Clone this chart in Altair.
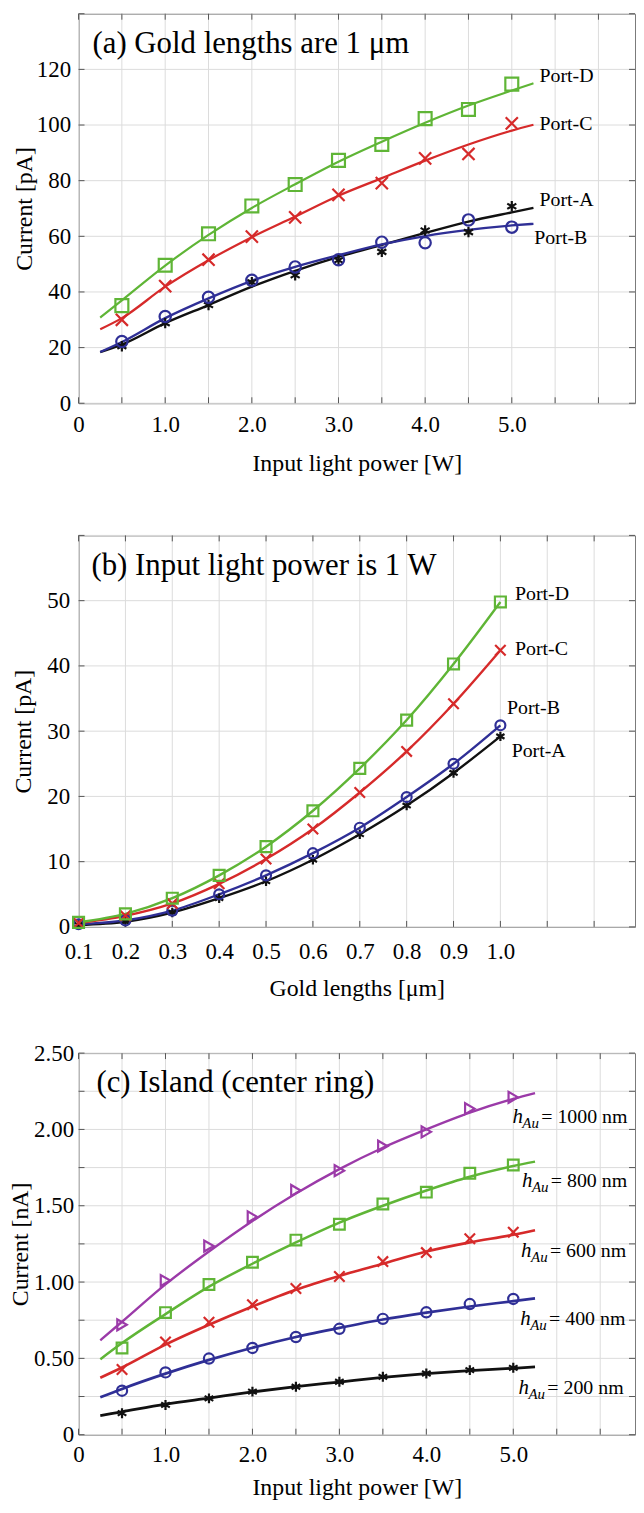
import altair as alt
import pandas as pd

FONT = "Liberation Serif"

# ---------------- Panel (a): current vs input light power (gold length 1 um) ----------------
a_x = [0.5, 1.0, 1.5, 2.0, 2.5, 3.0, 3.5, 4.0, 4.5, 5.0]
a_port_a = [20.5, 28.8, 35.3, 43.5, 46.0, 51.4, 54.4, 62.1, 61.5, 70.8]
a_port_b = [22.2, 31.2, 38.1, 44.2, 49.0, 51.6, 57.9, 57.7, 65.9, 63.3]
a_port_c = [30.0, 42.1, 51.6, 59.9, 66.8, 74.9, 79.1, 88.0, 89.6, 100.6]
a_port_d = [35.1, 49.6, 60.9, 70.9, 78.6, 87.3, 93.0, 102.3, 105.6, 114.7]

a_fit_x = [0.25, 0.5, 1.0, 1.5, 2.0, 2.5, 3.0, 3.5, 4.0, 4.5, 5.0, 5.25]
a_fit_a = [18.4, 21.1, 28.8, 35.3, 41.9, 47.6, 52.6, 56.9, 61.2, 65.3, 68.6, 70.2]
a_fit_b = [18.4, 22.0, 30.6, 37.7, 44.0, 49.0, 53.2, 57.1, 60.1, 62.3, 63.9, 64.5]
a_fit_c = [26.6, 30.6, 41.9, 51.4, 59.7, 67.1, 74.6, 80.9, 87.2, 93.0, 98.0, 100.1]
a_fit_d = [30.8, 37.0, 49.5, 60.5, 70.2, 78.7, 86.8, 94.0, 100.8, 107.0, 112.4, 115.0]

# ---------------- Panel (b): current vs gold length (1 W) ----------------
b_x = [0.1, 0.2, 0.3, 0.4, 0.5, 0.6, 0.7, 0.8, 0.9, 1.0]
b_port_a = [0.3, 0.8, 2.2, 4.4, 7.0, 10.3, 14.2, 18.6, 23.6, 29.2]
b_port_b = [0.4, 1.0, 2.5, 5.0, 7.9, 11.3, 15.2, 19.9, 25.0, 30.9]
b_port_c = [0.6, 1.7, 3.6, 6.6, 10.4, 15.0, 20.6, 26.9, 34.2, 42.4]
b_port_d = [0.7, 2.0, 4.4, 7.9, 12.3, 17.8, 24.3, 31.7, 40.3, 49.8]

# ---------------- Panel (c): island current vs input light power ----------------
c_x = [0.5, 1.0, 1.5, 2.0, 2.5, 3.0, 3.5, 4.0, 4.5, 5.0]
c_h200 = [0.141, 0.195, 0.238, 0.282, 0.314, 0.347, 0.379, 0.401, 0.423, 0.438]
c_h400 = [0.288, 0.408, 0.499, 0.568, 0.640, 0.694, 0.759, 0.802, 0.856, 0.889]
c_h600 = [0.427, 0.607, 0.737, 0.852, 0.958, 1.036, 1.134, 1.193, 1.284, 1.327]
c_h800 = [0.568, 0.800, 0.984, 1.130, 1.275, 1.379, 1.511, 1.589, 1.713, 1.767]
c_h1000 = [0.720, 1.010, 1.236, 1.427, 1.600, 1.730, 1.890, 1.984, 2.136, 2.210]

c_fit_x = [0.25, 0.5, 1.0, 1.5, 2.0, 2.5, 3.0, 3.5, 4.0, 4.5, 5.0, 5.25]
c_fit_h200 = [0.125, 0.150, 0.200, 0.240, 0.280, 0.315, 0.345, 0.375, 0.400, 0.420, 0.435, 0.444]
c_fit_h400 = [0.245, 0.300, 0.400, 0.490, 0.570, 0.640, 0.700, 0.755, 0.800, 0.840, 0.875, 0.893]
c_fit_h600 = [0.373, 0.440, 0.590, 0.720, 0.840, 0.950, 1.040, 1.120, 1.200, 1.260, 1.310, 1.340]
c_fit_h800 = [0.494, 0.600, 0.790, 0.970, 1.120, 1.260, 1.390, 1.500, 1.600, 1.690, 1.760, 1.789]
c_fit_h1000 = [0.618, 0.740, 0.985, 1.200, 1.400, 1.580, 1.740, 1.880, 2.000, 2.110, 2.200, 2.238]

# series labels and their anchor points (data coordinates)
a_labels = ["Port-D", "Port-C", "Port-A", "Port-B"]
a_label_x = [5.32, 5.32, 5.32, 5.26]
a_label_y = [117.5, 100.2, 73.2, 59.4]

b_labels = ["Port-D", "Port-C", "Port-B", "Port-A"]
b_label_x = [1.031, 1.031, 1.014, 1.024]
b_label_y = [51.0, 42.6, 33.6, 26.9]

c_labels = ["= 1000 nm", "= 800 nm", "= 600 nm", "= 400 nm", "= 200 nm"]
c_label_x = [4.99, 5.10, 5.09, 5.08, 5.06]
c_label_y = [2.080, 1.659, 1.200, 0.759, 0.304]

# grid / tick positions and labelled tick values
a_x_grid = [0, 0.5, 1, 1.5, 2, 2.5, 3, 3.5, 4, 4.5, 5, 5.5, 6]
a_x_labels = [0, 1, 2, 3, 4, 5]
a_y_grid = [0, 20, 40, 60, 80, 100, 120, 140]
a_y_labels = [0, 20, 40, 60, 80, 100, 120]
b_x_grid = [0.1, 0.2, 0.3, 0.4, 0.5, 0.6, 0.7, 0.8, 0.9, 1.0, 1.1, 1.2]
b_x_labels = [0.1, 0.2, 0.3, 0.4, 0.5, 0.6, 0.7, 0.8, 0.9, 1.0]
b_y_grid = [0, 10, 20, 30, 40, 50, 60]
b_y_labels = [0, 10, 20, 30, 40, 50]
c_x_grid = [0, 0.5, 1, 1.5, 2, 2.5, 3, 3.5, 4, 4.5, 5, 5.5, 6]
c_x_labels = [0, 1, 2, 3, 4, 5]
c_y_grid = [0, 0.25, 0.5, 0.75, 1.0, 1.25, 1.5, 1.75, 2.0, 2.25, 2.5]
c_y_labels = [0, 0.25, 0.5, 0.75, 1.0, 1.25, 1.5, 1.75, 2.0, 2.25, 2.5]

# ---------------- styles ----------------
ASTERISK = "M0,-1L0,1M-0.87,-0.5L0.87,0.5M-0.87,0.5L0.87,-0.5"
XMARK = "M-1,-1L1,1M1,-1L-1,1"
GREEN, RED, BLUE, BLACK, PURPLE = "#5fb536", "#d62a2a", "#2f2f96", "#111111", "#9b3aa8"

port_order = ["Port-A", "Port-B", "Port-C", "Port-D"]
port_colors = [BLACK, BLUE, RED, GREEN]
port_shapes = [ASTERISK, "circle", XMARK, "square"]

h_order = ["200 nm", "400 nm", "600 nm", "800 nm", "1000 nm"]
h_colors = [BLACK, BLUE, RED, GREEN, PURPLE]
h_shapes = [ASTERISK, "circle", XMARK, "square", "triangle-right"]

AXIS_FONT = dict(labelFont=FONT, titleFont=FONT, labelFontSize=23, titleFontSize=24,
                 titleFontWeight="normal", labelColor="black", titleColor="black")


def long_df(x, series):
    rows = []
    for name, ys in series:
        for xv, yv in zip(x, ys):
            rows.append({"x": xv, "y": yv, "series": name})
    return pd.DataFrame(rows)


def panel(pts, fit, order, colors, shapes, sizes, widths,
          xdom, ydom, W, H, x_grid, x_labs, y_grid, y_labs, x_expr, y_expr, x_title, y_title,
          x_lpad, x_tpad, y_lpad, y_tpad, title, title_pos, label_layers, spacer=0):
    xs = alt.Scale(domain=xdom, nice=False, zero=False)
    ys = alt.Scale(domain=ydom, nice=False, zero=False)
    color = alt.Color("series:N", scale=alt.Scale(domain=order, range=colors), legend=None)
    xaxis = alt.Axis(values=x_labs, labelExpr=x_expr, title=x_title, labelPadding=x_lpad,
                     titlePadding=x_tpad, labelFlush=False, labelOverlap=False, grid=False,
                     **AXIS_FONT)
    yaxis = alt.Axis(values=y_labs, labelExpr=y_expr, title=y_title, labelPadding=y_lpad,
                     titlePadding=y_tpad, labelFlush=False, labelOverlap=False, grid=False,
                     **AXIS_FONT)

    xg = alt.Chart(pd.DataFrame({"x": x_grid}))
    yg = alt.Chart(pd.DataFrame({"y": y_grid}))
    grid = [
        xg.mark_rule(color="#dcdcdc", strokeWidth=1).encode(x=alt.X("x:Q", scale=xs)),
        yg.mark_rule(color="#dcdcdc", strokeWidth=1).encode(y=alt.Y("y:Q", scale=ys)),
    ]
    tick_mark = dict(color="#555555", strokeWidth=1)
    ticks = [
        xg.mark_rule(**tick_mark).encode(x=alt.X("x:Q", scale=xs), y=alt.value(H), y2=alt.value(H - 6)),
        xg.mark_rule(**tick_mark).encode(x=alt.X("x:Q", scale=xs), y=alt.value(0), y2=alt.value(6)),
        yg.mark_rule(**tick_mark).encode(y=alt.Y("y:Q", scale=ys), x=alt.value(0), x2=alt.value(6)),
        yg.mark_rule(**tick_mark).encode(y=alt.Y("y:Q", scale=ys), x=alt.value(W), x2=alt.value(W - 6)),
    ]

    lines = alt.Chart(fit).mark_line(interpolate="monotone").encode(
        x=alt.X("x:Q", scale=xs, axis=xaxis),
        y=alt.Y("y:Q", scale=ys, axis=yaxis),
        color=color,
        strokeWidth=alt.StrokeWidth("series:N", scale=alt.Scale(domain=order, range=widths), legend=None),
        detail="series:N",
    )
    points = alt.Chart(pts).mark_point(filled=False, strokeWidth=2.2, opacity=1).encode(
        x=alt.X("x:Q", scale=xs),
        y=alt.Y("y:Q", scale=ys),
        color=color,
        shape=alt.Shape("series:N", scale=alt.Scale(domain=order, range=shapes), legend=None),
        size=alt.Size("series:N", scale=alt.Scale(domain=order, range=sizes), legend=None),
    )
    ttl = alt.Chart(pd.DataFrame({"t": [title]})).mark_text(
        align="left", baseline="middle", font=FONT, fontSize=31, color="black"
    ).encode(x=alt.value(title_pos[0]), y=alt.value(title_pos[1]), text="t:N")

    labs = [lay(xs, ys) for lay in label_layers]
    layers = grid + ticks + [lines, points] + labs + [ttl]
    if spacer:
        sp = alt.Chart(pd.DataFrame({"t": [0]})).mark_rule(color="white", strokeWidth=1).encode(
            x=alt.value(0), x2=alt.value(1), y=alt.value(-spacer), y2=alt.value(-spacer + 1))
        layers.append(sp)
    return alt.layer(*layers).properties(width=W, height=H)


def simple_labels(texts, lx, ly, size=20):
    df = pd.DataFrame({"x": lx, "y": ly, "text": texts})

    def make(xs, ys):
        return alt.Chart(df).mark_text(align="left", baseline="middle", font=FONT,
                                       fontSize=size, color="black").encode(
            x=alt.X("x:Q", scale=xs), y=alt.Y("y:Q", scale=ys), text="text:N")
    return make


def h_labels(texts, lx, ly):
    df = pd.DataFrame({"x": lx, "y": ly, "text": texts, "h": ["h"] * len(texts),
                       "sub": ["Au"] * len(texts)})

    def part(field, size, style, dx, dy):
        def make(xs, ys):
            return alt.Chart(df).mark_text(align="left", baseline="middle", font=FONT,
                                           fontSize=size, fontStyle=style, color="black",
                                           dx=dx, dy=dy).encode(
                x=alt.X("x:Q", scale=xs), y=alt.Y("y:Q", scale=ys), text=f"{field}:N")
        return make
    return [part("h", 21, "italic", 0, 0), part("sub", 15, "italic", 10, 6),
            part("text", 20, "normal", 29, 0)]


# ---------------- data frames ----------------
a_pts = long_df(a_x, [("Port-A", a_port_a), ("Port-B", a_port_b), ("Port-C", a_port_c), ("Port-D", a_port_d)])
a_fit = long_df(a_fit_x, [("Port-A", a_fit_a), ("Port-B", a_fit_b), ("Port-C", a_fit_c), ("Port-D", a_fit_d)])
b_pts = long_df(b_x, [("Port-A", b_port_a), ("Port-B", b_port_b), ("Port-C", b_port_c), ("Port-D", b_port_d)])
c_pts = long_df(c_x, [("200 nm", c_h200), ("400 nm", c_h400), ("600 nm", c_h600),
                      ("800 nm", c_h800), ("1000 nm", c_h1000)])
c_fit = long_df(c_fit_x, [("200 nm", c_fit_h200), ("400 nm", c_fit_h400), ("600 nm", c_fit_h600),
                          ("800 nm", c_fit_h800), ("1000 nm", c_fit_h1000)])

X_EXPR_W = "datum.value == 0 ? '0' : format(datum.value, '.1f')"
X_EXPR_L = "format(datum.value, '.1f')"
Y_EXPR_INT = "format(datum.value, 'd')"
Y_EXPR_C = "datum.value == 0 ? '0' : format(datum.value, '.2f')"

W = 560
pa = panel(a_pts, a_fit, port_order, port_colors, port_shapes,
           [110, 169, 81, 144], [2.4, 2.2, 2.2, 2.2],
           [0, W / 87.2], [0, 140], W, 392, a_x_grid, a_x_labels, a_y_grid, a_y_labels,
           X_EXPR_W, Y_EXPR_INT, "Input light power [W]", "Current [pA]", 10, 16, 8, 0,
           "(a) Gold lengths are 1 \u03bcm", (14, 31),
           [simple_labels(a_labels, a_label_x, a_label_y)])

pb = panel(b_pts, b_pts, port_order, port_colors, port_shapes,
           [90, 121, 64, 100], [2.4, 2.4, 2.0, 2.0],
           [0.1, 0.1 + W / 471.7], [0, 60], W, 394, b_x_grid, b_x_labels, b_y_grid, b_y_labels,
           X_EXPR_L, Y_EXPR_INT, "Gold lengths [\u03bcm]", "Current [pA]", 14, 13, 9, 11,
           "(b) Input light power is 1 W", (13, 31),
           [simple_labels(b_labels, b_label_x, b_label_y)], spacer=18)

pc = panel(c_pts, c_fit, h_order, h_colors, h_shapes,
           [100, 121, 64, 100, 160], [2.8, 2.4, 2.4, 2.4, 2.4],
           [0, W / 87.5], [0, 2.5], W, 384, c_x_grid, c_x_labels, c_y_grid, c_y_labels,
           X_EXPR_W, Y_EXPR_C, "Input light power [W]", "Current [nA]", 9, 9, 5, 1,
           "(c) Island (center ring)", (18, 30),
           h_labels(c_labels, c_label_x, c_label_y))

chart = alt.vconcat(pa, pb, pc, spacing=40,
                    padding={"left": 0, "top": 0, "right": 0, "bottom": 0}).resolve_scale(
    color="independent", shape="independent", size="independent", strokeWidth="independent"
).configure(
    font=FONT
).configure_view(
    stroke="#7a7a7a", strokeWidth=1
).configure_axis(
    domain=False, ticks=False, tickSize=0, **AXIS_FONT
)

chart.save("out.html", embed_options={"renderer": "svg", "actions": False})
